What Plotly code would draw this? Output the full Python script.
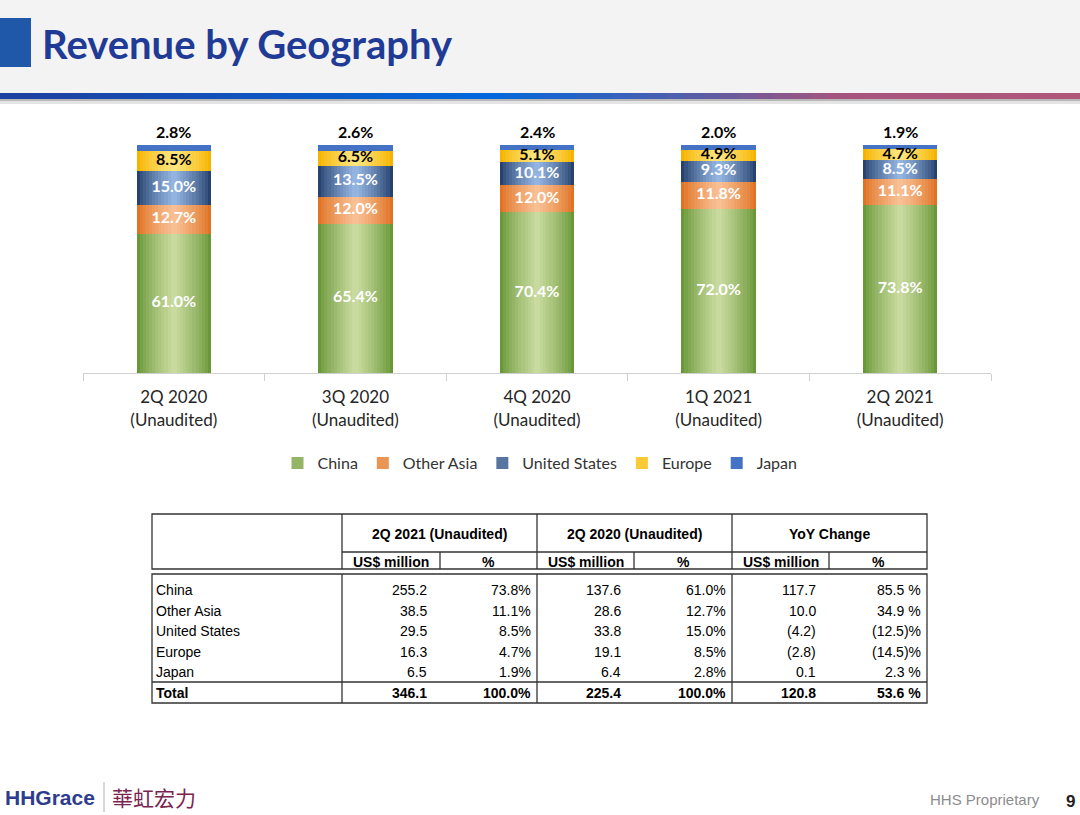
import plotly.graph_objects as go

# ---------------- data ----------------
categories = ["2Q 2020<br>(Unaudited)", "3Q 2020<br>(Unaudited)", "4Q 2020<br>(Unaudited)",
              "1Q 2021<br>(Unaudited)", "2Q 2021<br>(Unaudited)"]
series_names = ["China", "Other Asia", "United States", "Europe", "Japan"]
china = [61.0, 65.4, 70.4, 72.0, 73.8]
other_asia = [12.7, 12.0, 12.0, 11.8, 11.1]
united_states = [15.0, 13.5, 10.1, 9.3, 8.5]
europe = [8.5, 6.5, 5.1, 4.9, 4.7]
japan = [2.8, 2.6, 2.4, 2.0, 1.9]

table_regions = ["China", "Other Asia", "United States", "Europe", "Japan", "Total"]
rev_2q21 = ["255.2", "38.5", "29.5", "16.3", "6.5", "346.1"]
pct_2q21 = ["73.8%", "11.1%", "8.5%", "4.7%", "1.9%", "100.0%"]
rev_2q20 = ["137.6", "28.6", "33.8", "19.1", "6.4", "225.4"]
pct_2q20 = ["61.0%", "12.7%", "15.0%", "8.5%", "2.8%", "100.0%"]
yoy_usd = ["117.7", "10.0", "(4.2)", "(2.8)", "0.1", "120.8"]
yoy_pct = ["85.5 %", "34.9 %", "(12.5)%", "(14.5)%", "2.3 %", "53.6 %"]
table_groups = ["2Q 2021 (Unaudited)", "2Q 2020 (Unaudited)", "YoY Change"]
table_subheads = ["US$ million", "%"]

# ---------------- styling ----------------
W, H = 1080, 815
edge_colors = ["#6a9838", "#e07324", "#27426f", "#f6b400", "#4472c4"]
center_colors = ["#c8da9e", "#f8bf93", "#93b4e0", "#ffe57c", "#4472c4"]
label_colors = ["white", "white", "white", "black", "black"]
BAR_W = 0.41
N_LAYERS = 12
FONT_C = "Lato"
FONT_T = "Liberation Sans"


def px(x):
    return x / W


def py(y):
    return 1 - y / H


def mix(c1, c2, t):
    a = [int(c1[i:i + 2], 16) for i in (1, 3, 5)]
    b = [int(c2[i:i + 2], 16) for i in (1, 3, 5)]
    return "#%02x%02x%02x" % tuple(round(a[i] + (b[i] - a[i]) * t) for i in range(3))


fig = go.Figure()
annotations = []
all_series = [china, other_asia, united_states, europe, japan]
base = [0.0] * len(categories)
for s, vals in enumerate(all_series):
    for k in range(N_LAYERS):
        t = k / N_LAYERS
        w = BAR_W * (1 - t)
        col = mix(edge_colors[s], center_colors[s], (k / (N_LAYERS - 1)) ** 0.8)
        fig.add_trace(go.Bar(
            x=categories, y=vals, base=base, width=w,
            marker=dict(color=col, line=dict(width=0)),
            name=series_names[s], legendgroup=series_names[s],
            showlegend=(k == N_LAYERS // 3), hoverinfo="skip",
        ))
    if s < len(all_series) - 1:
        fig.add_trace(go.Scatter(
            x=categories, y=[b + v / 2 for b, v in zip(base, vals)],
            mode="text", text=["%.1f%%" % v for v in vals],
            textfont=dict(family=FONT_C, size=16, color=label_colors[s], weight="bold"),
            showlegend=False, hoverinfo="skip", cliponaxis=False,
        ))
    base = [b + v for b, v in zip(base, vals)]

# top labels (Japan) anchored to the stack tops
for c, tot, v in zip(categories, base, japan):
    annotations.append(dict(x=c, y=tot, xref="x", yref="y", text="<b>%.1f%%</b>" % v,
                            yanchor="bottom", yshift=2, showarrow=False,
                            font=dict(family=FONT_C, size=16, color="black")))

shapes = []

# header background
shapes.append(dict(type="rect", xref="paper", yref="paper", x0=0, x1=1, y0=py(93), y1=1,
                   fillcolor="#f3f3f3", line=dict(width=0), layer="below"))
shapes.append(dict(type="rect", xref="paper", yref="paper", x0=0, x1=px(31), y0=py(67), y1=py(18),
                   fillcolor="#1f58a8", line=dict(width=0)))
# gradient rule
stops = [(0.0, "#1f3f9e"), (0.45, "#0068dc"), (0.62, "#4a5fb0"), (0.78, "#a7537c"), (1.0, "#b0577a")]
NSEG = 60
for i in range(NSEG):
    f = (i + 0.5) / NSEG
    for j in range(len(stops) - 1):
        if stops[j][0] <= f <= stops[j + 1][0]:
            tt = (f - stops[j][0]) / (stops[j + 1][0] - stops[j][0])
            c = mix(stops[j][1], stops[j + 1][1], tt)
            break
    shapes.append(dict(type="rect", xref="paper", yref="paper", x0=i / NSEG, x1=(i + 1) / NSEG + 0.001,
                       y0=py(99), y1=py(93), fillcolor=c, line=dict(width=0)))
shapes.append(dict(type="rect", xref="paper", yref="paper", x0=0, x1=1, y0=py(101), y1=py(99),
                   fillcolor="#b8b8b8", line=dict(width=0)))
shapes.append(dict(type="rect", xref="paper", yref="paper", x0=0, x1=1, y0=py(104), y1=py(101),
                   fillcolor="#e4e4e4", line=dict(width=0)))

annotations.append(dict(text="<b>Revenue by Geography</b>", x=px(40), y=py(44), xref="paper", yref="paper",
                        xanchor="left", yanchor="middle", showarrow=False,
                        font=dict(family=FONT_C, size=40, color="#1f3b96")))

# ---------------- table ----------------
LC = "#333333"
LW = 1.3
col_x = [152, 342, 440, 537, 634, 732, 829, 927]


def line(x0, y0, x1, y1):
    shapes.append(dict(type="line", xref="paper", yref="paper", x0=px(x0), y0=py(y0), x1=px(x1), y1=py(y1),
                       line=dict(color=LC, width=LW)))


def rect(x0, y0, x1, y1):
    shapes.append(dict(type="rect", xref="paper", yref="paper", x0=px(x0), y0=py(y1), x1=px(x1), y1=py(y0),
                       line=dict(color=LC, width=LW), fillcolor="rgba(0,0,0,0)"))


rect(152, 514, 927, 569)
for x in (342, 537, 732):
    line(x, 514, x, 569)
line(342, 552, 927, 552)
for x in (440, 634, 829):
    line(x, 552, x, 569)
rect(152, 574, 927, 703)
for x in (342, 537, 732):
    line(x, 574, x, 703)
line(152, 682, 927, 682)


def txt(s, x, y, anchor, bold=False, size=14):
    annotations.append(dict(text=("<b>%s</b>" % s) if bold else s, x=px(x), y=py(y), xref="paper", yref="paper",
                            xanchor=anchor, yanchor="middle", showarrow=False,
                            font=dict(family=FONT_T, size=size, color="black")))


for g in range(3):
    txt(table_groups[g], (col_x[1 + 2 * g] + col_x[3 + 2 * g]) / 2, 534, "center", bold=True)
    for s in range(2):
        txt(table_subheads[s], (col_x[1 + 2 * g + s] + col_x[2 + 2 * g + s]) / 2, 562, "center", bold=True)

cols = [rev_2q21, pct_2q21, rev_2q20, pct_2q20, yoy_usd, yoy_pct]
for r, reg in enumerate(table_regions):
    y = 590 + r * 20.6
    bold = reg == "Total"
    txt(reg, 154, y, "left", bold=bold)
    for c, colvals in enumerate(cols):
        pad = 11 if c % 2 == 0 else 4
        txt(colvals[r], col_x[2 + c] - pad, y, "right", bold=bold)

# ---------------- footer ----------------
annotations.append(dict(text="HHS Proprietary", x=px(1042), y=py(799), xref="paper", yref="paper",
                        xanchor="right", yanchor="middle", showarrow=False,
                        font=dict(family=FONT_T, size=15, color="#8c8c8c")))
annotations.append(dict(text="<b>9</b>", x=px(1077), y=py(801), xref="paper", yref="paper",
                        xanchor="right", yanchor="middle", showarrow=False,
                        font=dict(family=FONT_T, size=17, color="#222222")))
annotations.append(dict(text="<b>HHGrace</b>", x=px(3), y=py(797), xref="paper", yref="paper",
                        xanchor="left", yanchor="middle", showarrow=False,
                        font=dict(family="Liberation Sans", size=21, color="#2d3c8c")))
shapes.append(dict(type="line", xref="paper", yref="paper", x0=px(104), x1=px(104), y0=py(782), y1=py(812),
                   line=dict(color="#b0b0b0", width=1)))
annotations.append(dict(text="華虹宏力", x=px(110), y=py(797), xref="paper", yref="paper",
                        xanchor="left", yanchor="middle", showarrow=False,
                        font=dict(family="Noto Sans CJK TC", size=21, color="#7a2550")))

fig.update_layout(
    width=W, height=H, margin=dict(l=0, r=0, t=0, b=0),
    paper_bgcolor="white", plot_bgcolor="white",
    barmode="overlay", bargap=0,
    showlegend=True,
    legend=dict(orientation="h", x=0.5, xanchor="center", y=py(463), yanchor="middle",
                font=dict(family=FONT_C, size=16, color="#333333"), itemwidth=30,
                bgcolor="rgba(0,0,0,0)", traceorder="normal"),
    xaxis=dict(domain=[px(83), px(991)], range=[-0.5, 4.5], showline=True, linecolor="#d0d0d0", linewidth=1,
               ticks="outside", tickson="boundaries", ticklen=7, tickcolor="#d0d0d0", ticklabelstandoff=9,
               tickfont=dict(family=FONT_C, size=17, color="#262626"), showgrid=False, zeroline=False,
               fixedrange=True),
    yaxis=dict(domain=[py(373), py(120)], range=[0, 100 * (373 - 120) / 228], visible=False, fixedrange=True),
    shapes=shapes, annotations=annotations,
)

fig.write_html("out.html", config={"displayModeBar": False},
               post_script="document.body.style.margin='0';document.body.style.overflow='hidden';")
